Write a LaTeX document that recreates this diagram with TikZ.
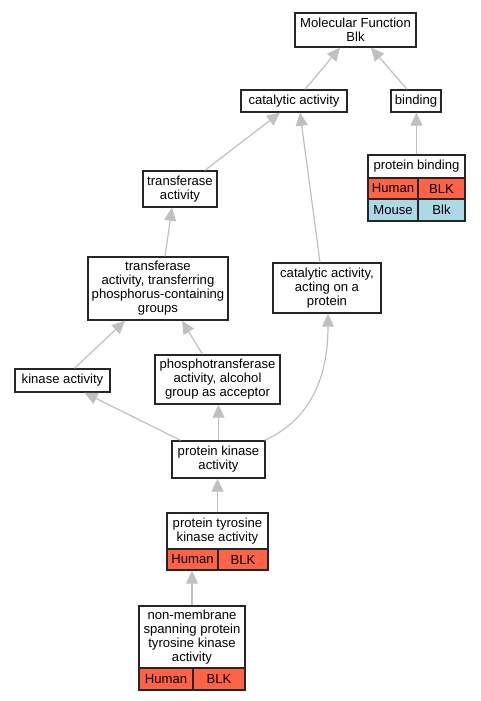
\documentclass[tikz,border=0pt]{standalone}
\usepackage{fontspec}
\setmainfont{Liberation Sans}
\usetikzlibrary{arrows.meta}
\definecolor{edgegray}{HTML}{C0C0C0}
\definecolor{human}{HTML}{FF6347}
\definecolor{mouse}{HTML}{ADD8E6}
\begin{document}
\begin{tikzpicture}[x=1pt,y=-1pt,
  box/.style={draw=black!85, line width=1.4pt, fill=white, align=center, inner sep=0pt,
    font=\fontsize{13.1}{14}\selectfont},
  cell/.style={box},
  edge/.style={draw=edgegray, line width=1.2pt, -{Triangle[length=13pt,width=12pt]}}]
\useasboundingbox (0,0) rectangle (480,701);
% plain nodes
\node[box, minimum width=121pt, minimum height=34pt] (mf) at (355.5,30) {Molecular Function\\Blk};
\node[box, minimum width=106pt, minimum height=22pt] (cat) at (294,101) {catalytic activity};
\node[box, minimum width=50pt, minimum height=22pt] (bind) at (416,101) {binding};
\node[box, minimum width=74pt, minimum height=36pt] (ta) at (180,189) {transferase\\activity};
\node[box, minimum width=140pt, minimum height=63pt] (tp) at (158,288.5) {transferase\\activity, transferring\\phosphorus-containing\\groups};
\node[box, minimum width=108pt, minimum height=50pt] (cap) at (327,288) {catalytic activity,\\acting on a\\protein};
\node[box, minimum width=95pt, minimum height=23pt] (ka) at (62.5,380.5) {kinase activity};
\node[box, minimum width=125pt, minimum height=49pt] (pt) at (217.5,379.5) {phosphotransferase\\activity, alcohol\\group as acceptor};
\node[box, minimum width=93pt, minimum height=37pt] (pk) at (218.5,459.5) {protein kinase\\activity};
% protein binding table
\node[box, minimum width=97pt, minimum height=23pt] (pb) at (416.5,166.5) {protein binding};
\node[cell, fill=human, minimum width=50pt, minimum height=21pt] (pbh) at (393,188.5) {Human};
\node[cell, fill=human, minimum width=47pt, minimum height=21pt] (pbhg) at (441.5,188.5) {BLK};
\node[cell, fill=mouse, minimum width=50pt, minimum height=22pt] (pbm) at (393,210) {Mouse};
\node[cell, fill=mouse, minimum width=47pt, minimum height=22pt] (pbmg) at (441.5,210) {Blk};
% protein tyrosine kinase table
\node[box, minimum width=101pt, minimum height=36pt] (ptk) at (217.5,531) {protein tyrosine\\kinase activity};
\node[cell, fill=human, minimum width=51pt, minimum height=21pt] (ptkh) at (192.5,559.5) {Human};
\node[cell, fill=human, minimum width=50pt, minimum height=21pt] (ptkg) at (243,559.5) {BLK};
% non-membrane table
\node[box, minimum width=106pt, minimum height=62pt] (nm) at (192,637) {non-membrane\\spanning protein\\tyrosine kinase\\activity};
\node[cell, fill=human, minimum width=54pt, minimum height=22pt] (nmh) at (166,679) {Human};
\node[cell, fill=human, minimum width=52pt, minimum height=22pt] (nmg) at (219,679) {BLK};
% edges
\draw[edge] ([xshift=11pt]cat.north) -- ([xshift=-15.5pt]mf.south);
\draw[edge] ([xshift=-9pt]bind.north) -- ([xshift=15.5pt]mf.south);
\draw[edge] (pb.north) -- (pb.north |- bind.south);
\draw[edge] ([xshift=25pt]ta.north) -- ([xshift=-14pt]cat.south);
\draw[edge] ([xshift=-7pt]cap.north) -- ([xshift=6pt]cat.south);
\draw[edge] ([xshift=7pt]tp.north) -- ([xshift=-8pt]ta.south);
\draw[edge] ([xshift=12pt]ka.north) -- ([xshift=-33pt]tp.south);
\draw[edge] ([xshift=-15pt]pt.north) -- ([xshift=24pt]tp.south);
\draw[edge] ([xshift=-38pt]pk.north) -- ([xshift=22pt]ka.south);
\draw[edge] (pk.north) -- (pk.north |- pt.south);
\draw[edge] ([xshift=-1pt]pk.north east) .. controls (305,422) and (328,385) .. ([xshift=1pt]cap.south);
\draw[edge] (ptk.north) -- (ptk.north |- pk.south);
\draw[edge] (nm.north) -- (nm.north |- ptkh.south);
\end{tikzpicture}
\end{document}
